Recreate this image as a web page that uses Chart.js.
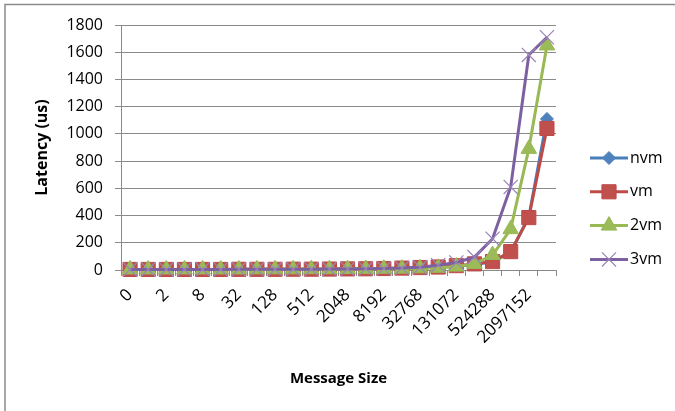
<!DOCTYPE html>
<html>
<head>
<meta charset="utf-8">
<script src="https://cdn.jsdelivr.net/npm/chart.js@4/dist/chart.umd.min.js"></script>
<style>
    html, body { margin: 0; padding: 0; background: #ffffff; }
</style>
</head>
<body>
<canvas id="latency-chart" width="675" height="411"></canvas>
<script>
// message sizes in bytes (x axis categories)
const messageSizes = ["0", "1", "2", "4", "8", "16", "32", "64", "128", "256", "512", "1024",
    "2048", "4096", "8192", "16384", "32768", "65536", "131072", "262144", "524288",
    "1048576", "2097152", "4194304"];

// latency in us
const nvm = [4, 4, 4, 4, 4, 4, 4, 5, 5, 5, 6, 6, 7, 8, 10, 12, 15, 20, 28, 40, 60, 130, 390, 1110];
const vm = [4, 4, 4, 4, 4, 4, 5, 5, 5, 6, 6, 7, 8, 9, 11, 14, 18, 22, 32, 45, 62, 135, 385, 1040];
const twoVm = [4, 4, 4, 4, 4, 4, 4, 5, 5, 5, 6, 6, 7, 8, 9, 10, 12, 16, 25, 45, 110, 300, 890, 1650];
const threeVm = [4, 4, 4, 4, 4, 4, 5, 5, 5, 6, 6, 7, 8, 9, 11, 14, 20, 35, 55, 95, 230, 610, 1580, 1710];

const yTicks = { min: 0, max: 1800, step: 200 };

const FONT = "'Open Sans', 'Liberation Sans', sans-serif";

// frame lines + legend with line through marker (excel style)
const excelLook = {
    id: "excelLook",
    beforeDraw(chart) {
        const ctx = chart.ctx;
        ctx.save();
        ctx.strokeStyle = "#8a8a8a";
        ctx.lineWidth = 1.5;
        ctx.beginPath();
        ctx.moveTo(5, 411);
        ctx.lineTo(5, 4.5);
        ctx.lineTo(675, 4.5);
        ctx.stroke();
        ctx.restore();
    },
    afterDraw(chart) {
        const ctx = chart.ctx;
        chart.data.datasets.forEach((ds, i) => {
            const y = 158 + i * 33.8;
            ctx.save();
            ctx.strokeStyle = ds.borderColor;
            ctx.lineWidth = ds.borderWidth;
            ctx.beginPath();
            ctx.moveTo(590, y);
            ctx.lineTo(628, y);
            ctx.stroke();
            ctx.fillStyle = ds.pointBackgroundColor;
            ctx.strokeStyle = ds.pointBorderColor;
            ctx.lineWidth = ds.pointBorderWidth;
            Chart.helpers.drawPoint(ctx, {
                pointStyle: ds.pointStyle,
                radius: ds.pointRadius,
                borderWidth: ds.pointBorderWidth,
                rotation: 0,
            }, 609, y);
            ctx.fillStyle = "#000000";
            ctx.font = "16px " + FONT;
            ctx.textAlign = "left";
            ctx.textBaseline = "middle";
            ctx.fillText(ds.label, 630, y);
            ctx.restore();
        });
    },
};

const ctx = document.querySelector("#latency-chart").getContext("2d");
const latencyChart = new Chart(ctx, {
    type: "line",
    data: {
        labels: messageSizes,
        datasets: [
            {
                label: "nvm",
                data: nvm,
                borderColor: "#4a7ebb",
                borderWidth: 3,
                pointStyle: "rectRot",
                pointRadius: 6.5,
                pointBackgroundColor: "#4f81bd",
                pointBorderColor: "#4a7ebb",
                pointBorderWidth: 1,
                clip: false,
                order: 3,
            },
            {
                label: "vm",
                data: vm,
                borderColor: "#be4b48",
                borderWidth: 3,
                pointStyle: "rect",
                pointRadius: 10,
                pointBackgroundColor: "#c0504d",
                pointBorderColor: "#be4b48",
                pointBorderWidth: 1,
                clip: false,
                order: 2,
            },
            {
                label: "2vm",
                data: twoVm,
                borderColor: "#98b954",
                borderWidth: 3,
                pointStyle: "triangle",
                pointRadius: 9,
                pointBackgroundColor: "#9bbb59",
                pointBorderColor: "#98b954",
                pointBorderWidth: 1,
                clip: false,
                order: 1,
            },
            {
                label: "3vm",
                data: threeVm,
                borderColor: "#7d60a0",
                borderWidth: 3,
                pointStyle: "crossRot",
                pointRadius: 10,
                pointBackgroundColor: "#8064a2",
                pointBorderColor: "#9a84b8",
                pointBorderWidth: 1.2,
                clip: false,
                order: 0,
            },
        ],
    },
    options: {
        responsive: false,
        animation: false,
        layout: {
            padding: { top: 25, right: 119, left: 0, bottom: 0 },
        },
        elements: {
            line: { tension: 0 },
        },
        scales: {
            x: {
                offset: true,
                afterFit: (scale) => { scale.height = 141; },
                grid: {
                    offset: true,
                    drawOnChartArea: false,
                    drawTicks: true,
                    tickLength: 6,
                    color: "#8a8a8a",
                },
                border: { color: "#8a8a8a", width: 1 },
                ticks: {
                    autoSkip: false,
                    maxRotation: 45,
                    minRotation: 45,
                    padding: 9,
                    color: "#000000",
                    font: { family: FONT, size: 17 },
                    callback: function (value, index) {
                        // excel shows every second label
                        return index % 2 === 0 ? this.getLabelForValue(value) : "";
                    },
                },
                title: {
                    display: true,
                    text: "Message Size",
                    color: "#000000",
                    font: { family: FONT, size: 15, weight: "bold" },
                    padding: { top: 0, bottom: 23 },
                },
            },
            y: {
                min: yTicks.min,
                max: yTicks.max,
                afterFit: (scale) => { scale.width = 121; },
                grid: {
                    color: "#8a8a8a",
                    tickLength: 6,
                },
                border: { color: "#8a8a8a", width: 1 },
                ticks: {
                    stepSize: yTicks.step,
                    padding: 12,
                    color: "#000000",
                    font: { family: FONT, size: 16 },
                    callback: (value) => String(value),
                },
                title: {
                    display: true,
                    text: "Latency (us)",
                    color: "#000000",
                    font: { family: FONT, size: 16, weight: "bold" },
                    padding: { top: 33, bottom: 0 },
                },
            },
        },
        plugins: {
            legend: { display: false },
            tooltip: { enabled: false },
        },
    },
    plugins: [excelLook],
});
</script>
</body>
</html>
